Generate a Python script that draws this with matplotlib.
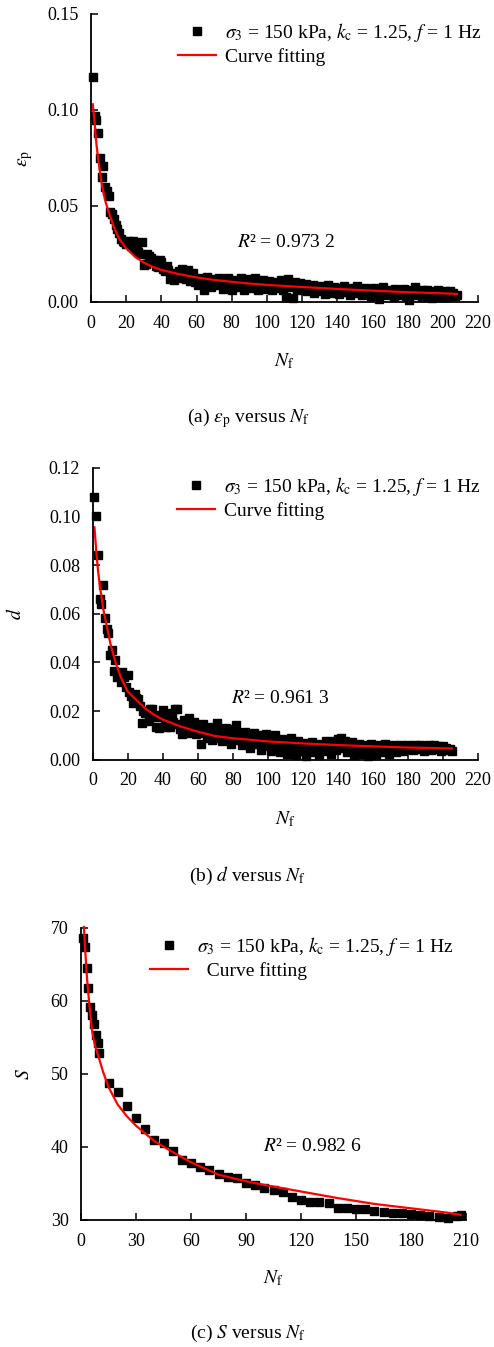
import numpy as np
import matplotlib
matplotlib.use('Agg')
import matplotlib.pyplot as plt

plt.rcParams['font.family'] = ['Liberation Serif', 'DejaVu Serif']
plt.rcParams['mathtext.fontset'] = 'stix'

# ---------------- data ----------------
# (a) plastic strain vs number of cycles, one point per cycle
eps_p = [0.117, 0.097, 0.095, 0.088, 0.075, 0.065, 0.071, 0.060, 0.058, 0.055,
         0.047, 0.046, 0.043, 0.040, 0.038, 0.036, 0.033, 0.032, 0.031, 0.030,
         0.032, 0.031, 0.029, 0.032, 0.028, 0.027, 0.026, 0.025, 0.031, 0.0195,
         0.020, 0.025, 0.024, 0.023, 0.021, 0.022, 0.019, 0.018, 0.022, 0.021,
         0.017, 0.016, 0.019, 0.0165, 0.012, 0.015, 0.0115, 0.014, 0.013, 0.016,
         0.0125, 0.017, 0.013, 0.012, 0.0165, 0.011, 0.013, 0.015, 0.0105, 0.012,
         0.009, 0.0125, 0.0115, 0.0063, 0.0095, 0.013, 0.011, 0.008, 0.012, 0.0105,
         0.0115, 0.009, 0.0125, 0.0105, 0.007, 0.011, 0.0095, 0.0125, 0.0085, 0.0065,
         0.010, 0.0115, 0.008, 0.0105, 0.0125, 0.009, 0.0065, 0.0115, 0.0122, 0.0085,
         0.0075, 0.011, 0.0125, 0.009, 0.006, 0.0105, 0.008, 0.0115, 0.007, 0.0095,
         0.011, 0.0085, 0.006, 0.0095, 0.0105, 0.0075, 0.009, 0.0115, 0.0065, 0.0105,
         0.0025, 0.0118, 0.008, 0.0095, 0.002, 0.0105, 0.007, 0.0088, 0.0098, 0.006,
         0.0075, 0.0095, 0.0055, 0.0085, 0.0065, 0.009, 0.0045, 0.008, 0.007, 0.0055,
         0.0085, 0.0065, 0.004, 0.0075, 0.0088, 0.006, 0.0045, 0.0078, 0.0055, 0.0068,
         0.004, 0.0072, 0.0055, 0.0085, 0.005, 0.0065, 0.0035, 0.0075, 0.006, 0.0045,
         0.0082, 0.005, 0.0068, 0.0035, 0.006, 0.0075, 0.0045, 0.0065, 0.003, 0.0055,
         0.0072, 0.004, 0.006, 0.0015, 0.0068, 0.008, 0.0045, 0.0055, 0.0035, 0.0065,
         0.005, 0.0025, 0.007, 0.0045, 0.006, 0.0035, 0.0055, 0.0068, 0.003, 0.005,
         0.0012, 0.006, 0.0042, 0.0078, 0.0035, 0.0055, 0.0045, 0.0025, 0.006, 0.004,
         0.0065, 0.0032, 0.005, 0.0022, 0.0055, 0.004, 0.006, 0.0028, 0.0048, 0.0035,
         0.0055, 0.0025, 0.004, 0.0058, 0.0032, 0.0045, 0.003, 0.0038]
n_eps = np.arange(1, len(eps_p) + 1)

fit_a_n = [1, 2, 3, 4, 6, 8, 10, 13, 16, 20, 25, 30, 35, 40, 50, 60, 70, 80, 90,
           100, 120, 140, 160, 180, 200, 208]
fit_a_y = [0.103, 0.094, 0.083, 0.075, 0.062, 0.053, 0.047, 0.039, 0.033, 0.028,
           0.0236, 0.0205, 0.0183, 0.0167, 0.0145, 0.0128, 0.0115, 0.0105, 0.0096,
           0.0089, 0.0078, 0.0068, 0.0059, 0.0051, 0.0045, 0.0042]

# (b) damage d vs number of cycles
dmg = [0.108, 0.100, 0.084, 0.066, 0.064, 0.072, 0.0584, 0.0536, 0.052, 0.043,
       0.045, 0.0366, 0.041, 0.034, 0.035, 0.032, 0.036, 0.034, 0.030, 0.0348,
       0.028, 0.026, 0.0232, 0.0269, 0.0255, 0.025, 0.022, 0.0152, 0.020, 0.019,
       0.0195, 0.016, 0.021, 0.0207, 0.018, 0.0135, 0.0175, 0.0129, 0.0185, 0.0204,
       0.016, 0.0135, 0.0175, 0.0136, 0.019, 0.0155, 0.0207, 0.021, 0.0145, 0.0125,
       0.0104, 0.0165, 0.013, 0.011, 0.0173, 0.0145, 0.012, 0.0155, 0.0105, 0.0135,
       0.011, 0.0065, 0.0147, 0.0125, 0.009, 0.0135, 0.0115, 0.008, 0.0125, 0.0105,
       0.015, 0.009, 0.012, 0.0075, 0.0105, 0.013, 0.0085, 0.011, 0.0065, 0.0095,
       0.0125, 0.0143, 0.008, 0.0105, 0.006, 0.009, 0.0115, 0.007, 0.0095, 0.005,
       0.0085, 0.011, 0.0065, 0.0101, 0.0075, 0.004, 0.009, 0.0065, 0.0105, 0.0055,
       0.008, 0.0035, 0.0095, 0.0101, 0.006, 0.0075, 0.003, 0.0085, 0.005, 0.007,
       0.0025, 0.0065, 0.0088, 0.0045, 0.006, 0.002, 0.0075, 0.0055, 0.0035, 0.0068,
       0.0045, 0.0015, 0.006, 0.005, 0.0072, 0.003, 0.0055, 0.0065, 0.002, 0.005,
       0.0062, 0.0035, 0.0075, 0.0045, 0.0068, 0.0025, 0.0058, 0.0078, 0.004, 0.0084,
       0.0065, 0.0088, 0.005, 0.0075, 0.003, 0.0068, 0.0055, 0.0072, 0.002, 0.006,
       0.0045, 0.0065, 0.0025, 0.0055, 0.004, 0.006, 0.0015, 0.005, 0.0065, 0.0035,
       0.0055, 0.002, 0.0045, 0.006, 0.003, 0.0052, 0.0065, 0.004, 0.0025, 0.0058,
       0.0045, 0.0062, 0.003, 0.0055, 0.0048, 0.006, 0.0035, 0.0058, 0.0045, 0.0062,
       0.005, 0.0058, 0.004, 0.006, 0.0052, 0.0045, 0.0062, 0.0055, 0.0035, 0.0058,
       0.0048, 0.006, 0.004, 0.0055, 0.0062, 0.0045, 0.0058, 0.005, 0.0035, 0.0055,
       0.0045, 0.005, 0.0038, 0.0042, 0.0035]
n_dmg = np.arange(1, len(dmg) + 1)

fit_b_n = [1, 2, 3, 4, 5, 6, 8, 10, 13, 16, 20, 25, 30, 35, 40, 50, 60, 70, 80,
           90, 100, 120, 140, 160, 180, 200, 205]
fit_b_y = [0.0955, 0.086, 0.078, 0.072, 0.067, 0.062, 0.055, 0.048, 0.040, 0.034,
           0.028, 0.0245, 0.021, 0.0185, 0.0165, 0.0137, 0.0115, 0.0097, 0.0088,
           0.0082, 0.0075, 0.0067, 0.006, 0.0055, 0.005, 0.0047, 0.0046]

# (c) S vs number of cycles
n_s = [1, 2, 3, 4, 5, 6, 7, 8, 9, 10, 15, 20, 25, 30, 35, 40, 45, 50, 55, 60,
       65, 70, 75, 80, 85, 90, 95, 100, 105, 110, 115, 120, 125, 130, 135, 140,
       145, 150, 155, 160, 165, 170, 175, 180, 185, 190, 195, 200, 205, 207]
s_val = [68.6, 67.3, 64.5, 61.7, 59.1, 58.0, 56.8, 55.3, 54.2, 52.9, 48.8, 47.55,
         45.6, 43.9, 42.5, 41.0, 40.6, 39.4, 38.2, 37.75, 37.2, 36.85, 36.35, 35.9,
         35.8, 35.1, 34.85, 34.35, 34.1, 33.8, 33.2, 32.8, 32.5, 32.4, 32.3, 31.6,
         31.7, 31.45, 31.45, 31.3, 31.15, 31.0, 30.9, 30.8, 30.7, 30.6, 30.45, 30.3,
         30.6, 30.7]

fit_c_n = [1.6, 2, 3, 4, 5, 6, 7, 8, 10, 12, 15, 20, 25, 30, 40, 50, 60, 75, 90,
           100, 120, 140, 160, 180, 200, 207]
fit_c_y = [70.1, 68.2, 64.0, 61.0, 58.3, 56.0, 54.6, 53.6, 52.0, 50.3, 48.2, 45.8,
           44.2, 42.9, 40.8, 39.3, 37.9, 36.2, 35.3, 34.8, 33.9, 33.0, 32.2, 31.6,
           31.0, 30.7]

legend_label = r'$\sigma_3$ = 150 kPa, $k_\mathrm{c}$ = 1.25, $f$ = 1 Hz'

W, H = 494, 1347
fig = plt.figure(figsize=(W / 100, H / 100), dpi=100)


def rect(l, t, r, b):
    return [l / W, (H - b) / H, (r - l) / W, (b - t) / H]


def style(ax):
    ax.spines[['top', 'right']].set_visible(False)
    for s in ['left', 'bottom']:
        ax.spines[s].set_linewidth(1.3)
    ax.tick_params(direction='in', length=5, width=1.1, labelsize=13, pad=9)


def panel(ax, x, y, fx, fy, ms, r2, r2pos, leg_xy, ylab, caption, cap_y, extra=''):
    ax.plot(x, y, 's', color='black', ms=ms, label=legend_label, clip_on=False)
    ax.plot(fx, fy, '-', color='#ff0000', lw=1.6, label=extra + 'Curve fitting', clip_on=False)
    style(ax)
    ax.legend(loc='upper left', bbox_to_anchor=leg_xy, frameon=False, fontsize=14,
              borderpad=0, handlelength=1.95, handletextpad=0.45, labelspacing=0.2,
              borderaxespad=0)
    ax.text(r2pos[0], r2pos[1], '$R$' + r2, transform=ax.transAxes, fontsize=14,
            ha='left', va='center')
    ax.set_ylabel(ylab, fontsize=14)
    ax.set_xlabel(r'$N_\mathrm{f}$', fontsize=14)
    fig.text(0.502, 1 - cap_y / H, caption, fontsize=14, ha='center', va='center')


# (a)
ax1 = fig.add_axes(rect(91, 14, 478, 302))
panel(ax1, n_eps, eps_p, fit_a_n, fit_a_y, 5.4, '\u00b2 = 0.973 2', (0.377, 0.205),
      (0.225, 0.975), r'$\varepsilon_\mathrm{p}$',
      r'(a) $\varepsilon_\mathrm{p}$ versus $N_\mathrm{f}$', 418)
ax1.set_xlim(0, 220)
ax1.set_ylim(0, 0.15)
ax1.set_xticks(np.arange(0, 221, 20))
ax1.set_yticks([0, 0.05, 0.10, 0.15])
ax1.yaxis.set_major_formatter('{x:.2f}')
ax1.yaxis.set_label_coords(-0.145, 0.5)
ax1.xaxis.set_label_coords(0.5, -0.17)

# (b)
ax2 = fig.add_axes(rect(92.7, 467.7, 478, 759.7))
panel(ax2, n_dmg, dmg, fit_b_n, fit_b_y, 5.4, '\u00b2 = 0.961 3', (0.359, 0.211),
      (0.22, 0.975), r'$d$', r'(b) $d$ versus $N_\mathrm{f}$', 876)
ax2.set_xlim(0, 220)
ax2.set_ylim(0, 0.12)
ax2.set_xticks(np.arange(0, 221, 20))
ax2.set_yticks(np.arange(0, 0.121, 0.02))
ax2.yaxis.set_major_formatter('{x:.2f}')
ax2.yaxis.set_label_coords(-0.175, 0.5)
ax2.xaxis.set_label_coords(0.5, -0.17)

# (c)
ax3 = fig.add_axes(rect(81, 927.7, 466, 1220))
panel(ax3, n_s, s_val, fit_c_n, fit_c_y, 6, '\u00b2 = 0.982 6', (0.473, 0.25),
      (0.18, 0.975), r'$S$', r'(c) $S$ versus $N_\mathrm{f}$', 1333, extra='  ')
ax3.set_xlim(0, 210)
ax3.set_ylim(30, 70)
ax3.set_xticks(np.arange(0, 211, 30))
ax3.set_yticks([30, 40, 50, 60, 70])
ax3.yaxis.set_label_coords(-0.125, 0.5)
ax3.xaxis.set_label_coords(0.5, -0.165)

fig.savefig('out.png', dpi=100)
